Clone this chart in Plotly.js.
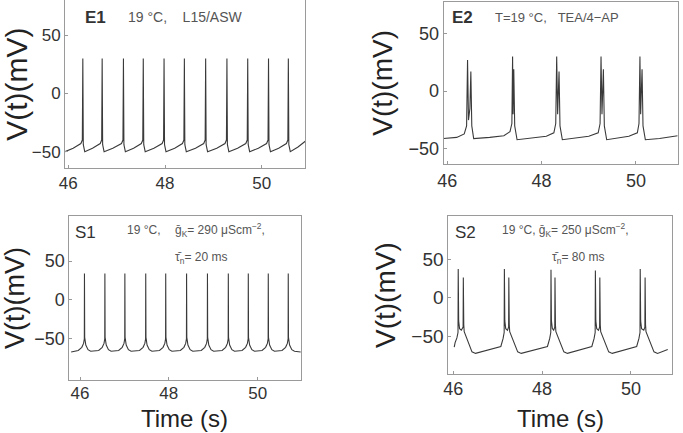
<!DOCTYPE html>
<html>
<head>
<meta charset="utf-8">
<script src="https://cdn.plot.ly/plotly-3.0.1.min.js"></script>
<style>html,body{margin:0;padding:0;background:#fff;}#chart{width:683px;height:433px;}</style>
</head>
<body>
<div id="chart"></div>
<script>
// ---------- data ----------
const timeTicks = [46, 48, 50];
const voltTicks = [-50, 0, 50];

// E1 : 19 °C, L15/ASW (experiment)
const e1Time = [45.93, 46.10, 46.26, 46.29, 46.30, 46.31, 46.34,
  46.50, 46.66, 46.69, 46.70, 46.71, 46.74,
  46.92, 47.10, 47.13, 47.14, 47.15, 47.18,
  47.35, 47.51, 47.54, 47.55, 47.56, 47.59,
  47.77, 47.94, 47.97, 47.98, 47.99, 48.02,
  48.20, 48.36, 48.39, 48.40, 48.41, 48.44,
  48.63, 48.80, 48.83, 48.84, 48.85, 48.88,
  49.07, 49.24, 49.27, 49.28, 49.29, 49.32,
  49.50, 49.67, 49.70, 49.71, 49.72, 49.75,
  49.93, 50.10, 50.13, 50.14, 50.15, 50.18,
  50.35, 50.51, 50.54, 50.55, 50.56, 50.59,
  50.75, 50.90];
const e1Volt = [-50, -47, -43, -40, 30, -44, -50,
  -47, -43, -40, 30, -44, -50,
  -47, -43, -40, 30, -44, -50,
  -47, -43, -40, 30, -44, -50,
  -47, -43, -40, 30, -44, -50,
  -47, -43, -40, 30, -44, -50,
  -47, -43, -40, 30, -44, -50,
  -47, -43, -40, 30, -44, -50,
  -47, -43, -40, 30, -44, -50,
  -47, -43, -40, 30, -44, -50,
  -47, -43, -40, 30, -44, -50,
  -46, -41];

// E2 : T=19 °C, TEA/4-AP (experiment, doublets)
const e2Time = [45.92, 46.20, 46.36, 46.41, 46.43, 46.45, 46.48, 46.50, 46.52, 46.56,
  46.90, 47.20, 47.33, 47.37, 47.385, 47.395, 47.41, 47.43, 47.48,
  47.80, 48.10, 48.26, 48.30, 48.32, 48.34, 48.37, 48.39, 48.44,
  48.70, 49.00, 49.20, 49.24, 49.26, 49.28, 49.31, 49.33, 49.38,
  49.60, 49.85, 50.03, 50.065, 50.085, 50.10, 50.13, 50.15, 50.20,
  50.50, 50.885];
const e2Volt = [-41, -40, -37, -30, 27, -25, -15, 17, -30, -41,
  -40, -38.5, -35, -28, 30, -20, 19, -30, -42,
  -40.5, -39, -36, -28, 30, -20, 17, -30, -42,
  -40.5, -39, -36, -28, 30, -20, 19, -30, -42,
  -40.5, -39, -36, -28, 30, -20, 19, -30, -42,
  -41, -38.5];

// S1 : simulation, gK = 290 µS/cm², tau_n = 20 ms
const s1Time = [45.80,
  45.96, 46.04, 46.08, 46.097, 46.10, 46.105, 46.13, 46.18, 46.24,
  46.42, 46.50, 46.54, 46.557, 46.56, 46.565, 46.59, 46.64, 46.70,
  46.87, 46.95, 46.99, 47.007, 47.01, 47.015, 47.04, 47.09, 47.15,
  47.34, 47.42, 47.46, 47.477, 47.48, 47.485, 47.51, 47.56, 47.62,
  47.79, 47.87, 47.91, 47.927, 47.93, 47.935, 47.96, 48.01, 48.07,
  48.26, 48.34, 48.38, 48.397, 48.40, 48.405, 48.43, 48.48, 48.54,
  48.73, 48.81, 48.85, 48.867, 48.87, 48.875, 48.90, 48.95, 49.01,
  49.20, 49.28, 49.32, 49.337, 49.34, 49.345, 49.37, 49.42, 49.48,
  49.65, 49.73, 49.77, 49.787, 49.79, 49.795, 49.82, 49.87, 49.93,
  50.10, 50.18, 50.22, 50.237, 50.24, 50.245, 50.27, 50.32, 50.38,
  50.55, 50.63, 50.67, 50.687, 50.69, 50.695, 50.72, 50.77, 50.83,
  50.97];
const s1Volt = [-67,
  -65, -61, -56, -50, 34, -48, -58, -64, -66,
  -65, -61, -56, -50, 34, -48, -58, -64, -66,
  -65, -61, -56, -50, 34, -48, -58, -64, -66,
  -65, -61, -56, -50, 34, -48, -58, -64, -66,
  -65, -61, -56, -50, 34, -48, -58, -64, -66,
  -65, -61, -56, -50, 34, -48, -58, -64, -66,
  -65, -61, -56, -50, 34, -48, -58, -64, -66,
  -65, -61, -56, -50, 34, -48, -58, -64, -66,
  -65, -61, -56, -50, 34, -48, -58, -64, -66,
  -65, -61, -56, -50, 34, -48, -58, -64, -66,
  -65, -61, -56, -50, 34, -48, -58, -64, -66,
  -67];

// S2 : simulation, gK = 250 µS/cm², tau_n = 80 ms (doublets)
const s2Time = [46.02, 46.04, 46.08, 46.105, 46.11, 46.12, 46.14, 46.18, 46.22, 46.225, 46.235, 46.245, 46.42, 46.50,
  47.07, 47.12, 47.145, 47.15, 47.16, 47.18, 47.22, 47.245, 47.25, 47.26, 47.27, 47.45, 47.53,
  48.12, 48.17, 48.195, 48.20, 48.21, 48.23, 48.26, 48.285, 48.29, 48.30, 48.31, 48.49, 48.57,
  49.12, 49.17, 49.195, 49.20, 49.21, 49.23, 49.27, 49.295, 49.30, 49.31, 49.32, 49.50, 49.58,
  50.13, 50.18, 50.205, 50.21, 50.22, 50.24, 50.29, 50.315, 50.32, 50.33, 50.34, 50.52, 50.60,
  50.83];
const s2Volt = [-64, -58, -52, -45, 37, -30, -40, -42, -38, 26, -35, -44, -70, -72,
  -63, -53, -45, 37, -30, -40, -42, -38, 26, -35, -44, -70, -72,
  -63, -53, -45, 36, -30, -40, -42, -38, 26, -35, -44, -70, -72,
  -63, -53, -45, 35, -30, -40, -42, -38, 26, -35, -44, -70, -72,
  -63, -53, -45, 37, -30, -40, -42, -38, 26, -35, -44, -70, -72,
  -67];

// ---------- drawing ----------
const FONT = 'Liberation Sans, Arial, Helvetica, sans-serif';
const lineStyle = {color: '#3a3a3a', width: 1.1};

const traces = [
  {x: e1Time, y: e1Volt, xaxis: 'x', yaxis: 'y', type: 'scatter', mode: 'lines', line: lineStyle, name: 'E1'},
  {x: e2Time, y: e2Volt, xaxis: 'x2', yaxis: 'y2', type: 'scatter', mode: 'lines', line: lineStyle, name: 'E2'},
  {x: s1Time, y: s1Volt, xaxis: 'x3', yaxis: 'y3', type: 'scatter', mode: 'lines', line: lineStyle, name: 'S1'},
  {x: s2Time, y: s2Volt, xaxis: 'x4', yaxis: 'y4', type: 'scatter', mode: 'lines', line: lineStyle, name: 'S2'}
];

function xAx(domain, anchor, range, fs, standoff) {
  return {domain: domain, anchor: anchor, range: range, tickvals: timeTicks,
    ticks: 'inside', ticklen: 3, tickcolor: '#999', showline: true, mirror: true,
    linecolor: '#9a9a9a', linewidth: 1, showgrid: false, zeroline: false,
    ticklabelstandoff: standoff || 0,
    tickfont: {family: FONT, size: fs, color: '#333'}};
}
function yAx(domain, anchor, range, fs, tfs, standoff) {
  return {domain: domain, anchor: anchor, range: range, tickvals: voltTicks,
    ticks: 'inside', ticklen: 3, tickcolor: '#999', showline: true, mirror: true,
    linecolor: '#9a9a9a', linewidth: 1, showgrid: false, zeroline: false,
    tickfont: {family: FONT, size: fs, color: '#333'},
    title: {text: 'V(t)(mV)', font: {family: FONT, size: tfs, color: '#222'}, standoff: standoff}};
}

const small = {family: FONT, size: 12, color: '#555'};
const label = {family: FONT, size: 17, color: '#333'};
const timeTitle = {family: FONT, size: 24, color: '#222'};

const layout = {
  width: 683, height: 433,
  margin: {l: 0, r: 0, t: 0, b: 0},
  paper_bgcolor: '#fff', plot_bgcolor: '#fff',
  showlegend: false,
  xaxis:  xAx([0.0952, 0.4466], 'y',  [45.932, 50.895], 17),
  yaxis:  yAx([0.612, 0.999],   'x',  [-64, 80], 17, 30, 5),
  xaxis2: xAx([0.6496, 0.9922], 'y2', [45.924, 50.885], 18),
  yaxis2: yAx([0.6212, 0.996],  'x2', [-63, 77.3], 18, 28, 7),
  xaxis3: xAx([0.1015, 0.4407], 'y3', [45.759, 50.977], 17, -2),
  yaxis3: yAx([0.1224, 0.5012], 'x3', [-103.1, 108.2], 18, 27, 6),
  xaxis4: xAx([0.6564, 0.9839], 'y4', [45.887, 50.926], 18, -2),
  yaxis4: yAx([0.1356, 0.5012], 'x4', [-99, 105.6], 19, 28, 7),
  annotations: [
    {xref: 'paper', yref: 'paper', x: 184/683, y: 0, xanchor: 'center', yanchor: 'bottom', borderpad: 0, showarrow: false, text: 'Time (s)', font: timeTitle},
    {xref: 'paper', yref: 'paper', x: 560/683, y: 0, xanchor: 'center', yanchor: 'bottom', borderpad: 0, showarrow: false, text: 'Time (s)', font: timeTitle},
    {xref: 'paper', yref: 'paper', x: 83/683, y: 1 - 17/433, xanchor: 'left', yanchor: 'middle', showarrow: false, text: '<b>E1</b>', font: label},
    {xref: 'paper', yref: 'paper', x: 126/683, y: 1 - 17/433, xanchor: 'left', yanchor: 'middle', showarrow: false, text: '19 °C,&nbsp;&nbsp;&nbsp;&nbsp;L15/ASW', font: {family: FONT, size: 14, color: '#555'}},
    {xref: 'paper', yref: 'paper', x: 450/683, y: 1 - 18/433, xanchor: 'left', yanchor: 'middle', showarrow: false, text: '<b>E2</b>', font: label},
    {xref: 'paper', yref: 'paper', x: 493/683, y: 1 - 18/433, xanchor: 'left', yanchor: 'middle', showarrow: false, text: 'T=19 °C,&nbsp;&nbsp;&nbsp;TEA/4−AP', font: {family: FONT, size: 13, color: '#555'}},
    {xref: 'paper', yref: 'paper', x: 73/683, y: 1 - 233/433, xanchor: 'left', yanchor: 'middle', showarrow: false, text: 'S1', font: {family: FONT, size: 17, color: '#333'}},
    {xref: 'paper', yref: 'paper', x: 125/683, y: 1 - 230/433, xanchor: 'left', yanchor: 'middle', showarrow: false, text: '19 °C,', font: small},
    {xref: 'paper', yref: 'paper', x: 173/683, y: 1 - 230/433, xanchor: 'left', yanchor: 'middle', showarrow: false, text: 'ḡ<sub>K</sub>= 290 μScm<sup>−2</sup>,', font: small},
    {xref: 'paper', yref: 'paper', x: 173/683, y: 1 - 258/433, xanchor: 'left', yanchor: 'middle', showarrow: false, text: 'τ̄<sub>n</sub>= 20 ms', font: small},
    {xref: 'paper', yref: 'paper', x: 453/683, y: 1 - 232/433, xanchor: 'left', yanchor: 'middle', showarrow: false, text: 'S2', font: {family: FONT, size: 17, color: '#333'}},
    {xref: 'paper', yref: 'paper', x: 500/683, y: 1 - 230/433, xanchor: 'left', yanchor: 'middle', showarrow: false, text: '19 °C, ḡ<sub>K</sub>= 250 μScm<sup>−2</sup>,', font: small},
    {xref: 'paper', yref: 'paper', x: 550/683, y: 1 - 258/433, xanchor: 'left', yanchor: 'middle', showarrow: false, text: 'τ̄<sub>n</sub>= 80 ms', font: small}
  ]
};

Plotly.newPlot('chart', traces, layout, {staticPlot: true, displayModeBar: false});
</script>
</body>
</html>
